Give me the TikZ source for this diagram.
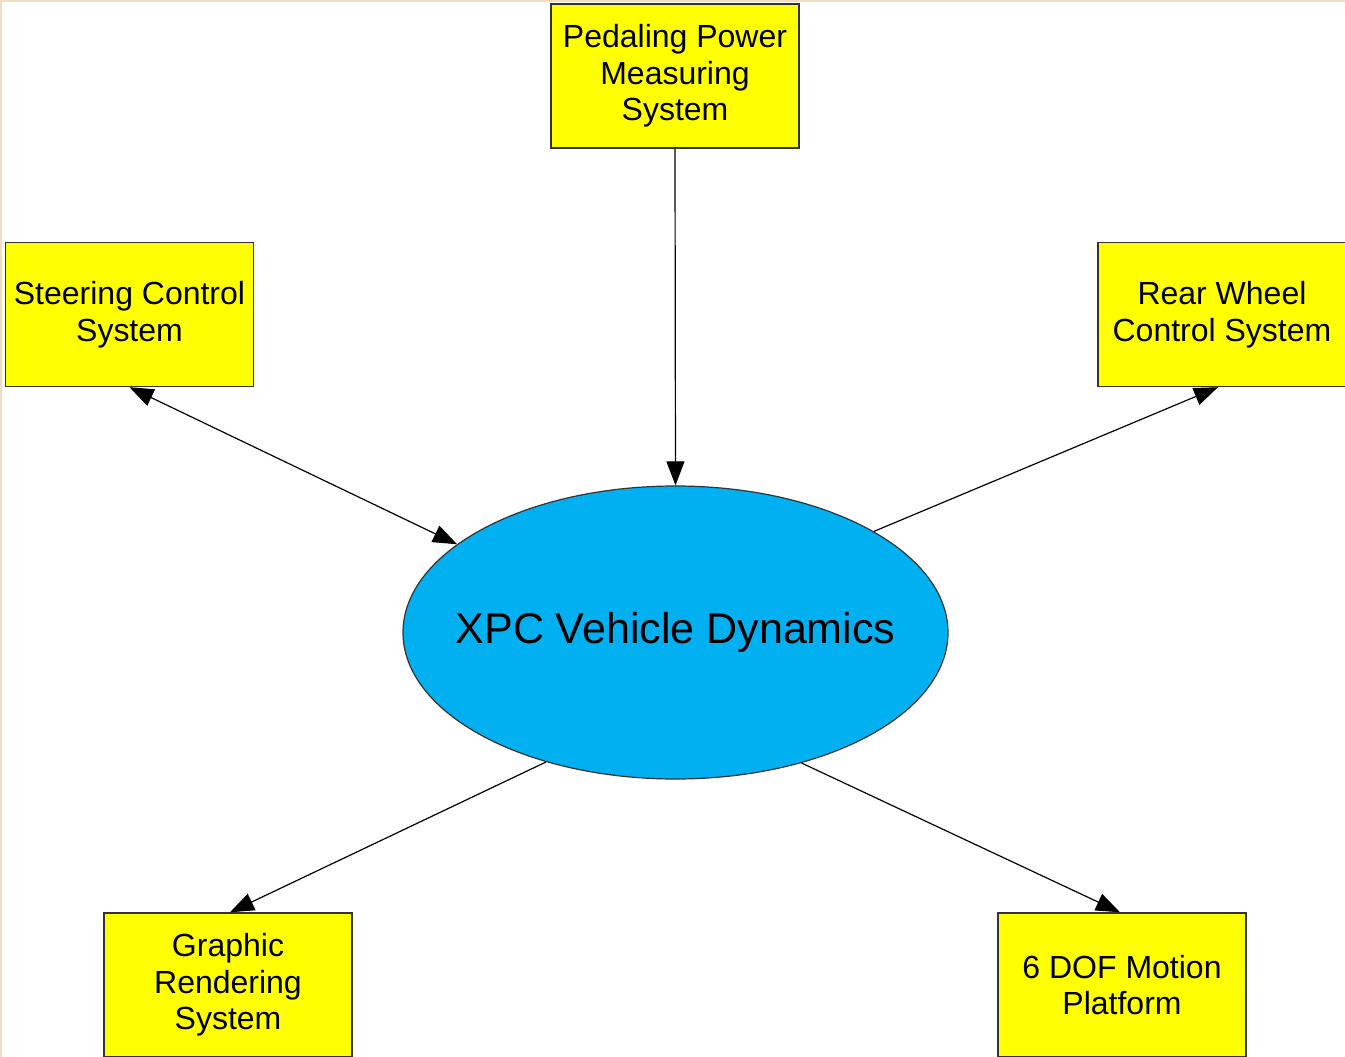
\documentclass[tikz,border=0pt]{standalone}
\usepackage{fontspec}
\setmainfont{Liberation Sans}
\usetikzlibrary{shapes.geometric,arrows.meta}
\definecolor{boxyellow}{RGB}{255,255,0}
\definecolor{ellblue}{RGB}{0,176,240}
\definecolor{edgegray}{RGB}{51,51,51}
\definecolor{beige}{RGB}{240,222,190}
\tikzset{
  sysbox/.style={draw=edgegray, line width=1.4pt, fill=boxyellow, rectangle,
    minimum width=248pt, minimum height=144pt, inner sep=0pt, align=center,
    font=\fontsize{32}{36.5}\selectfont},
  coreell/.style={draw=edgegray, line width=1.2pt, fill=ellblue, ellipse,
    minimum width=545pt, minimum height=293pt, inner sep=0pt},
  coretext/.style={font=\fontsize{43}{50}\selectfont},
  tip/.style={Triangle[length=24pt,width=18pt]},
  conn/.style={line width=1.2pt, -{Triangle[length=24pt,width=18pt]}},
  conn2/.style={line width=1.2pt, {Triangle[length=24pt,width=18pt]}-{Triangle[length=24pt,width=18pt]}}
}
\begin{document}
\begin{tikzpicture}[x=1pt,y=-1pt]
\useasboundingbox (0,0) rectangle (1345,1057);
\fill[white] (0,0) rectangle (1345,1057);
\fill[beige] (0,0) rectangle (1345,2);
\fill[beige] (0,0) rectangle (2,1057);
\node[sysbox] (ped) at (675,76) {Pedaling Power\\Measuring\\System};
\node[sysbox] (steer) at (129.5,314.5) {Steering Control\\System};
\node[sysbox] (rear) at (1222,314.5) {Rear Wheel\\Control System};
\node[sysbox] (graph) at (228,985) {Graphic\\Rendering\\System};
\node[sysbox] (dof) at (1122,985) {6 DOF Motion\\Platform};
\node[coreell, label={[coretext]center:XPC Vehicle Dynamics}] (xpc) at (675.5,632.5) {};
\draw[conn] (ped.south) -- (xpc.north);
\draw[conn2] (steer.south) -- (xpc.158.6);
\draw[conn] (xpc.27.07) -- ([xshift=-4pt]rear.south);
\draw[conn] (xpc.225.2) -- ([xshift=2pt]graph.north);
\draw[conn] (xpc.314.5) -- ([xshift=-2pt]dof.north);
\end{tikzpicture}
\end{document}
